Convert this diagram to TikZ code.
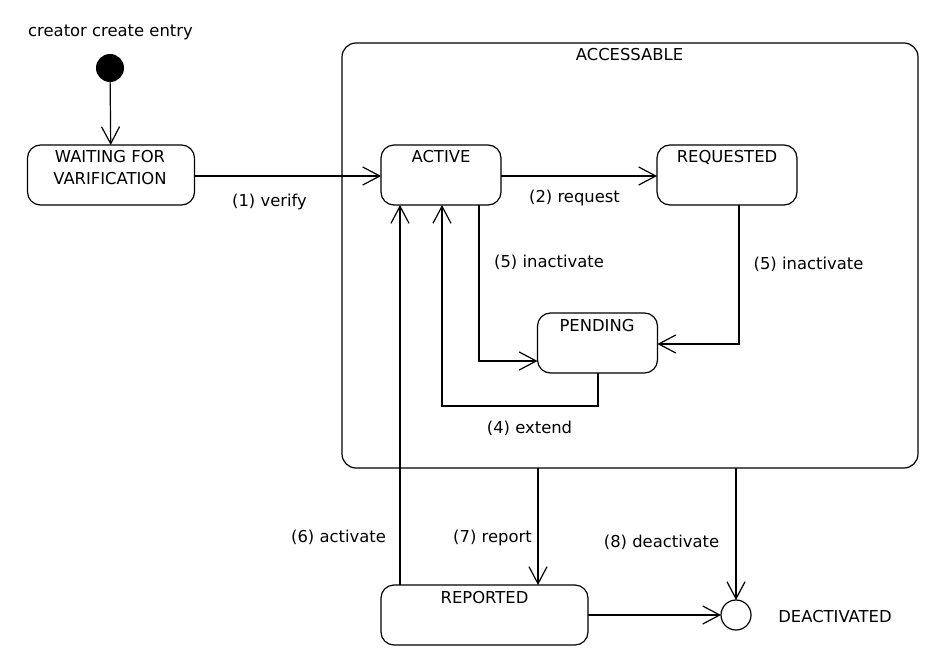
\documentclass[tikz,border=0pt]{standalone}
\usepackage{fontspec}
\setmainfont{DejaVu Sans}
\usetikzlibrary{arrows.meta}
\begin{document}
\begin{tikzpicture}[x=1pt,y=-1pt,
  every node/.style={font=\fontsize{16.4}{19}\selectfont, inner sep=0pt, outer sep=0pt},
  statebox/.style={draw, line width=1.2pt, rounded corners=13pt, minimum width=#1, minimum height=60pt},
  txt/.style={anchor=base},
  arr/.style={line width=1.2pt, -{Straight Barb[length=17pt,width=18pt,line width=1.2pt]}},
  ln/.style={line width=1.2pt}]
\useasboundingbox (0,0) rectangle (952,671);

% composite state
\node[draw, line width=1.2pt, rounded corners=14pt, minimum width=576pt, minimum height=425pt] (acc) at (630,255.5) {};
\node[txt] (acclbl) at (629.5,61) {ACCESSABLE};

% initial
\node[txt] (initlbl) at (110.5,37) {creator create entry};
\node[circle, fill=black, minimum size=28pt] (init) at (110,68) {};

% states
\node[statebox=167pt] (wait) at (111,175) {};
\node[txt] (waitl1) at (110,163) {WAITING FOR};
\node[txt] (waitl2) at (110,184) {VARIFICATION};

\node[statebox=120pt] (active) at (441,175) {};
\node[txt] (activel) at (441,163) {ACTIVE};

\node[statebox=140pt] (req) at (727,175) {};
\node[txt] (reql) at (727,163) {REQUESTED};

\node[statebox=120pt] (pend) at (597.5,343) {};
\node[txt] (pendl) at (597,331) {PENDING};

\node[statebox=207pt] (rep) at (484.5,615) {};
\node[txt] (repl) at (484.5,603) {REPORTED};

\node[circle, draw, line width=1.2pt, minimum size=30pt] (final) at (736,615) {};
\node[txt] (finall) at (835,622) {DEACTIVATED};

% connectors
\draw[arr] (init) -- (wait);
\draw[arr] (wait.east |- 0,176) -- (active.west |- 0,176);
\draw[arr] (active.east |- 0,176) -- (req.west |- 0,176);
\draw[arr] (active.south -| 479,0) |- (pend.west |- 0,361);
\draw[arr] (req.south -| 739,0) |- (pend.east |- 0,344);
\draw[arr] (pend.south -| 598,0) -- (598,406) -- (442,406) -- (active.south -| 442,0);
\draw[arr] (rep.north -| 400,0) -- (active.south -| 400,0);
\draw[arr] (acc.south -| 538,0) -- (rep.north -| 538,0);
\draw[arr] (acc.south -| 736,0) -- (final.north);
\draw[arr] (rep.east |- final.west) -- (final.west);

% labels
\node[txt] (l1) at (269.5,206) {(1) verify};
\node[txt] (l2) at (574.5,202) {(2) request};
\node[txt] (l5a) at (549,267) {(5) inactivate};
\node[txt] (l5b) at (808.5,269) {(5) inactivate};
\node[txt] (l4) at (529.5,433) {(4) extend};
\node[txt] (l6) at (338.5,542) {(6) activate};
\node[txt] (l7) at (492.5,542) {(7) report};
\node[txt] (l8) at (661.5,547) {(8) deactivate};
\end{tikzpicture}
\end{document}
